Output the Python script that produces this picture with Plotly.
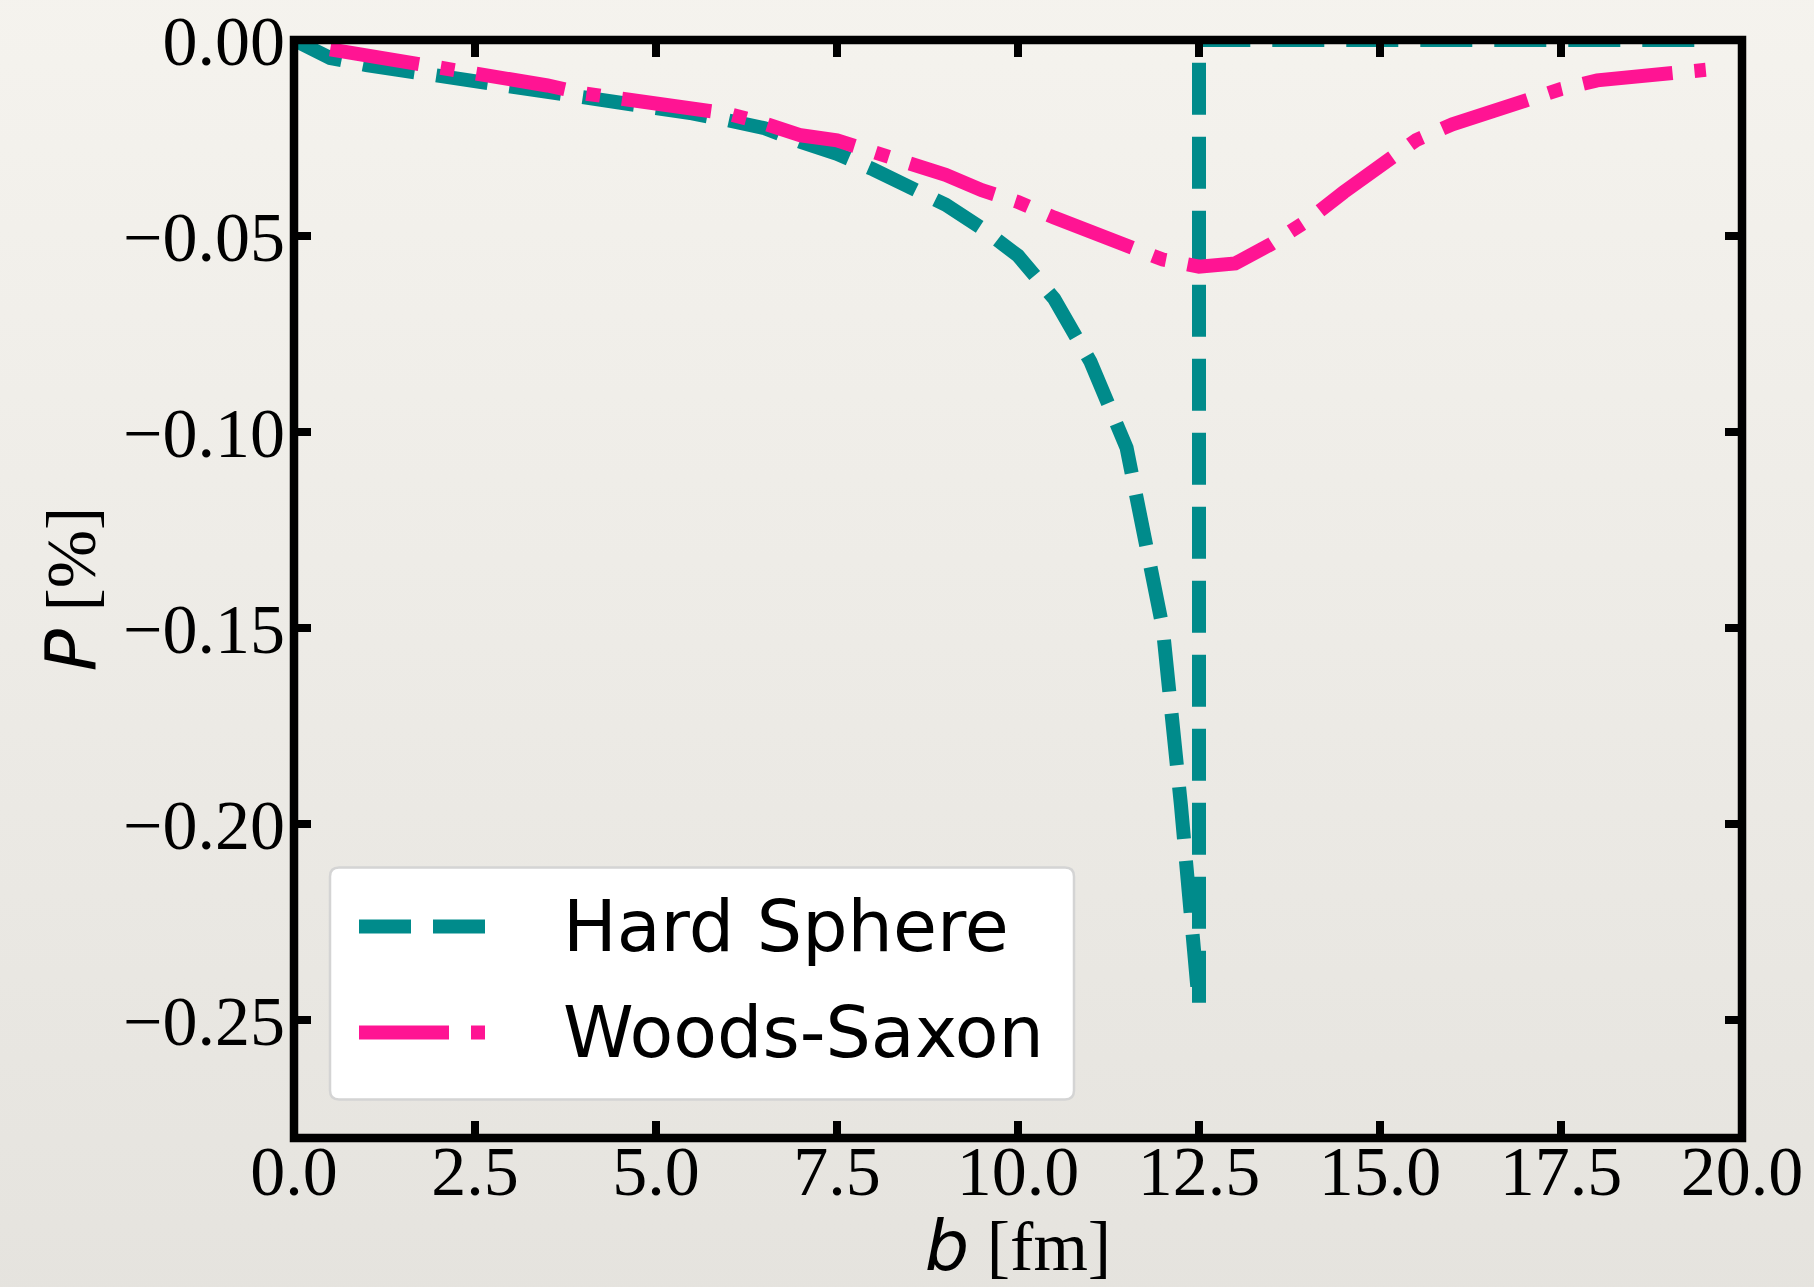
import base64
import plotly.graph_objects as go

# ---------------- data ----------------
b_hard = [0.0, 0.5, 1.0, 1.5, 2.0, 2.5, 3.0, 3.5, 4.0, 4.5, 5.0, 5.5, 6.0, 6.5, 7.0,
          7.5, 8.0, 8.5, 9.0, 9.5, 10.0, 10.5, 11.0, 11.5, 11.75, 12.0, 12.25, 12.4,
          12.5, 12.5, 13.0, 13.5, 14.0, 14.5, 15.0, 15.5, 16.0, 16.5, 17.0, 17.5,
          18.0, 18.5, 19.0, 19.5]
p_hard = [0.0, -0.0046, -0.0064, -0.0078, -0.0090, -0.0105, -0.0115, -0.0125, -0.0140,
          -0.0155, -0.0170, -0.0187, -0.0205, -0.0225, -0.0260, -0.0290, -0.0330,
          -0.0375, -0.0420, -0.0480, -0.0550, -0.0660, -0.0820, -0.1040, -0.1260,
          -0.1500, -0.1950, -0.2260, -0.2462, 0.0, 0.0, 0.0, 0.0, 0.0, 0.0, 0.0, 0.0,
          0.0, 0.0, 0.0, 0.0, 0.0, 0.0, 0.0]

b_ws = [0.5, 1.0, 1.5, 2.0, 2.5, 3.0, 3.5, 4.0, 4.5, 5.0, 5.5, 6.0, 6.5, 7.0, 7.5, 8.0,
        8.5, 9.0, 9.5, 10.0, 10.5, 11.0, 11.5, 12.0, 12.5, 13.0, 13.5, 14.0, 14.5,
        15.0, 15.5, 16.0, 16.5, 17.0, 17.5, 18.0, 18.5, 19.0, 19.5]
p_ws = [-0.0024, -0.0038, -0.0053, -0.0070, -0.0088, -0.0096, -0.0116, -0.0136,
        -0.0150, -0.0158, -0.0170, -0.0188, -0.0213, -0.0243, -0.0256, -0.0283,
        -0.0316, -0.0344, -0.0383, -0.0413, -0.0453, -0.0488, -0.0528, -0.0560,
        -0.0578, -0.0570, -0.0520, -0.0460, -0.0388, -0.0318, -0.0255, -0.0215,
        -0.0182, -0.0152, -0.0125, -0.0103, -0.0094, -0.0084, -0.0076]

series_names = ["Hard Sphere", "Woods-Saxon"]
series_colors = ["#008B8B", "#FF1493"]
series_dash = ["52px,22px", "90px,22px,14px,22px"]

x_tickvals = [0.0, 2.5, 5.0, 7.5, 10.0, 12.5, 15.0, 17.5, 20.0]
x_ticktext = ["0.0", "2.5", "5.0", "7.5", "10.0", "12.5", "15.0", "17.5", "20.0"]
y_tickvals = [0.0, -0.05, -0.10, -0.15, -0.20, -0.25]
y_ticktext = ["0.00", "\u22120.05", "\u22120.10", "\u22120.15", "\u22120.20", "\u22120.25"]

x_range = [0, 20]
y_range = [-0.28, 0.0]

# ---------------- layout geometry ----------------
W, H = 1814, 1287
ML, MR, MT, MB = 294, 72, 40, 148.5
PW, PH = W - ML - MR, H - MT - MB

def px(x):
    return (x - ML) / PW

def py(y):
    return (H - MB - y) / PH

SERIF = "Liberation Serif, Times New Roman, serif"
SANS = "DejaVu Sans, sans-serif"
LW = 14

fig = go.Figure()
fig.add_trace(go.Scatter(x=b_hard, y=p_hard, mode="lines", name=series_names[0],
                         line=dict(color=series_colors[0], width=LW, dash=series_dash[0]),
                         showlegend=False))
fig.add_trace(go.Scatter(x=b_ws, y=p_ws, mode="lines", name=series_names[1],
                         line=dict(color=series_colors[1], width=LW, dash=series_dash[1]),
                         showlegend=False))

axis_common = dict(
    ticks="inside", ticklen=17, tickwidth=8, tickcolor="black",
    mirror="ticks", showline=False, showgrid=False, zeroline=False,
    automargin=False,
    tickfont=dict(family=SERIF, size=70, color="black"),
)

fig.update_xaxes(range=x_range, tickmode="array", tickvals=x_tickvals, ticktext=x_ticktext,
                 title=dict(text="<span style=\"font-family:DejaVu Sans\"><i>b</i></span> [fm]",
                            font=dict(family=SERIF, size=70, color="black"), standoff=15),
                 ticklabelstandoff=-14, **axis_common)
fig.update_yaxes(range=y_range, tickmode="array", tickvals=y_tickvals, ticktext=y_ticktext,
                 title=dict(text="<span style=\"font-family:DejaVu Sans\"><i>P</i></span> [%]",
                            font=dict(family=SERIF, size=70, color="black"), standoff=4),
                 ticklabelstandoff=8, **axis_common)

# ---------------- legend (box, samples, labels) ----------------
bx0, bx1, by0, by1, r = 330, 1074, 868, 1100, 9
rx, ry = r / PW, r / PH
X0, X1, Y0, Y1 = px(bx0), px(bx1), py(by1), py(by0)
box_path = (f"M{X0+rx},{Y0} L{X1-rx},{Y0} Q{X1},{Y0} {X1},{Y0+ry} "
            f"L{X1},{Y1-ry} Q{X1},{Y1} {X1-rx},{Y1} L{X0+rx},{Y1} "
            f"Q{X0},{Y1} {X0},{Y1-ry} L{X0},{Y0+ry} Q{X0},{Y0} {X0+rx},{Y0} Z")

shapes = [dict(type="path", path=box_path, xref="paper", yref="paper",
               fillcolor="white", line=dict(color="#d4d4d4", width=2.5), layer="above")]
annotations = []
row_y = [927, 1033]
for i in range(2):
    shapes.append(dict(type="line", xref="paper", yref="paper",
                       x0=px(359), x1=px(488), y0=py(row_y[i]), y1=py(row_y[i]),
                       line=dict(color=series_colors[i], width=LW, dash=series_dash[i]),
                       layer="above"))
    annotations.append(dict(text=series_names[i], xref="paper", yref="paper",
                            x=px(561), y=py(row_y[i]), xanchor="left", yanchor="middle",
                            showarrow=False, font=dict(family=SANS, size=71.5, color="black")))

# frame (spines) centred on plot edges
shapes.append(dict(type="rect", xref="paper", yref="paper", x0=0, x1=1, y0=0, y1=1,
                   line=dict(color="black", width=8.5), fillcolor="rgba(0,0,0,0)",
                   layer="above"))

# soft vertical paper gradient (background decoration)
svg = ('<svg xmlns="http://www.w3.org/2000/svg" width="100" height="100" '
       'viewBox="0 0 100 100" preserveAspectRatio="none">'
       '<defs><linearGradient id="g" x1="0" y1="0" x2="0" y2="1">'
       '<stop offset="0" stop-color="#f5f3ee"/><stop offset="1" stop-color="#e5e3de"/>'
       '</linearGradient></defs>'
       '<rect width="100" height="100" fill="url(#g)"/></svg>')
bg_src = "data:image/svg+xml;base64," + base64.b64encode(svg.encode()).decode()
pad = 20

fig.update_layout(
    width=W, height=H,
    margin=dict(l=ML, r=MR, t=MT, b=MB, pad=0, autoexpand=False),
    paper_bgcolor="#eeece7", plot_bgcolor="white",
    shapes=shapes, annotations=annotations, showlegend=False,
    images=[dict(source=bg_src, xref="paper", yref="paper", x=px(-pad), y=py(-pad),
                 sizex=(W + 2 * pad) / PW, sizey=(H + 2 * pad) / PH,
                 xanchor="left", yanchor="top", sizing="stretch", layer="below")],
)

fig.write_html("out.html")
